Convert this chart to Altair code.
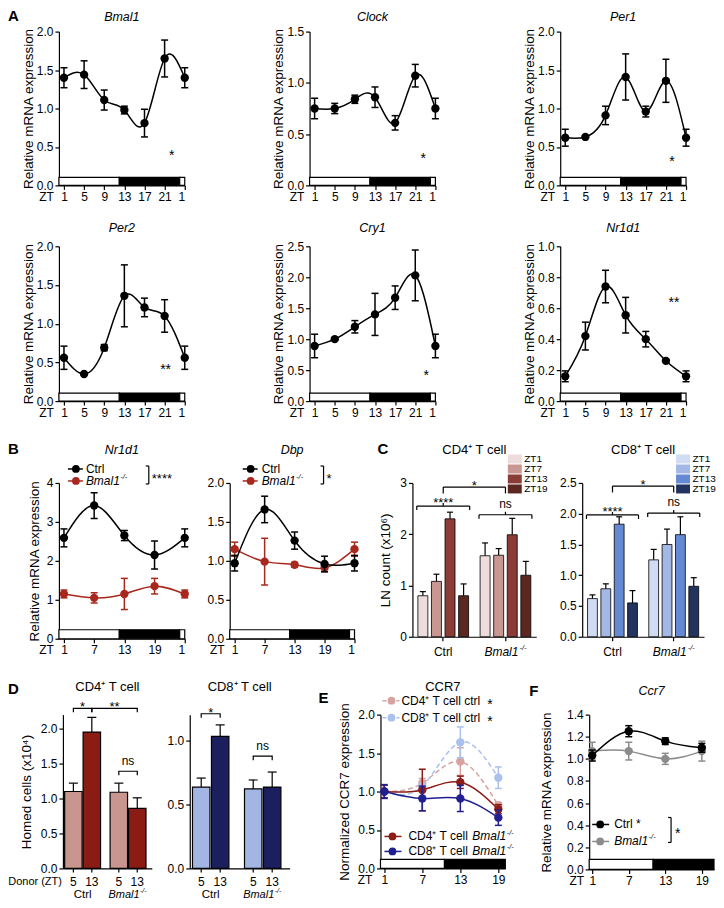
import altair as alt
import pandas as pd

FONT = "Liberation Sans"

# ======================= DATA =======================
# ---- A : ZT1..ZT21 and ZT1 repeated (plotted at 25)
A_ZT = [1, 5, 9, 13, 17, 21, 25]
A_ZT_LABELS = ["1", "5", "9", "13", "17", "21", "1"]
bmal1_mean = [1.40, 1.44, 1.11, 0.98, 0.81, 1.65, 1.40]
bmal1_sem = [0.13, 0.18, 0.13, 0.05, 0.18, 0.24, 0.13]
clock_mean = [0.75, 0.75, 0.84, 0.86, 0.61, 1.07, 0.75]
clock_sem = [0.10, 0.05, 0.04, 0.10, 0.07, 0.11, 0.10]
per1_mean = [0.62, 0.63, 0.91, 1.41, 0.96, 1.36, 0.62]
per1_sem = [0.11, 0.01, 0.12, 0.30, 0.07, 0.28, 0.11]
per2_mean = [0.56, 0.35, 0.69, 1.36, 1.21, 1.10, 0.56]
per2_sem = [0.15, 0.01, 0.04, 0.40, 0.12, 0.21, 0.15]
cry1_mean = [0.89, 1.00, 1.20, 1.40, 1.67, 2.03, 0.89]
cry1_sem = [0.19, 0.01, 0.10, 0.34, 0.19, 0.41, 0.19]
nr1d1_mean = [0.16, 0.42, 0.74, 0.555, 0.40, 0.26, 0.16]
nr1d1_sem = [0.035, 0.09, 0.105, 0.115, 0.05, 0.01, 0.035]
A_TITLES = ["Bmal1", "Clock", "Per1", "Per2", "Cry1", "Nr1d1"]
A_STAR_TEXT = ["*", "*", "*", "**", "*", "**"]
A_STAR_ZT = [22.4, 22.6, 22.2, 21.2, 23.2, 22.6]
A_STAR_Y = [0.44, 0.30, 0.36, 0.45, 0.47, 0.66]

LD_A_START = [0, 12, 24]
LD_A_END = [12, 24, 25]
LD_A_PHASE = ["light", "dark", "light"]

# ---- B
B_ZT = [1, 7, 13, 19, 25]
B_ZT_LABELS = ["1", "7", "13", "19", "1"]
b_nr1d1_ctrl_mean = [2.59, 3.42, 2.65, 2.15, 2.59]
b_nr1d1_ctrl_sem = [0.23, 0.33, 0.13, 0.36, 0.23]
b_nr1d1_ko_mean = [1.15, 1.05, 1.15, 1.35, 1.15]
b_nr1d1_ko_sem = [0.10, 0.13, 0.40, 0.20, 0.10]
b_dbp_ctrl_mean = [0.97, 1.66, 1.26, 0.96, 0.97]
b_dbp_ctrl_sem = [0.10, 0.17, 0.11, 0.10, 0.10]
b_dbp_ko_mean = [1.15, 0.99, 0.95, 0.91, 1.15]
b_dbp_ko_sem = [0.09, 0.30, 0.03, 0.05, 0.09]

# ---- C
C_GROUPS = ["Ctrl", "Bmal1"]
C_ZT = ["ZT1", "ZT7", "ZT13", "ZT19"]
cd4_ctrl_mean = [0.80, 1.08, 2.30, 0.80]
cd4_ctrl_sem = [0.08, 0.14, 0.13, 0.23]
cd4_ko_mean = [1.58, 1.59, 1.99, 1.20]
cd4_ko_sem = [0.25, 0.13, 0.32, 0.27]
cd8_ctrl_mean = [0.62, 0.78, 1.83, 0.55]
cd8_ctrl_sem = [0.06, 0.08, 0.12, 0.20]
cd8_ko_mean = [1.25, 1.50, 1.66, 0.82]
cd8_ko_sem = [0.17, 0.25, 0.29, 0.14]
C_CD4_COLORS = ["#eddcdb", "#c99792", "#8c3c37", "#5c2621"]
C_CD8_COLORS = ["#cfdcf3", "#a3b8e5", "#6589d3", "#22335f"]
C_BRACKET_TEXT = ["****", "ns"]
C_CD4_BRACKET_Y = [2.55, 2.38]
C_CD8_BRACKET_Y = [1.98, 2.01]
C_CD4_TOP_Y = 2.92
C_CD8_TOP_Y = 2.45

# ---- D
D_GROUPS = ["Ctrl", "Bmal1"]
D_ZT = ["5", "13"]
d_cd4_mean = [1.10, 1.95, 1.09, 0.86]
d_cd4_sem = [0.12, 0.21, 0.13, 0.15]
d_cd8_mean = [0.635, 1.03, 0.62, 0.635]
d_cd8_sem = [0.07, 0.09, 0.07, 0.117]
D4_BR_G1 = ["Ctrl", "Ctrl", "Bmal1"]
D4_BR_Z1 = ["5", "13", "5"]
D4_BR_G2 = ["Ctrl", "Bmal1", "Bmal1"]
D4_BR_Z2 = ["13", "13", "13"]
D4_BR_Y = [2.29, 2.29, 1.39]
D4_BR_T = ["*", "**", "ns"]
D8_BR_G1 = ["Ctrl", "Bmal1"]
D8_BR_Z1 = ["5", "5"]
D8_BR_G2 = ["Ctrl", "Bmal1"]
D8_BR_Z2 = ["13", "13"]
D8_BR_Y = [1.207, 0.876]
D8_BR_T = ["*", "ns"]

# ---- E
E_ZT = [1, 7, 13, 19]
E_ZT_LABELS = ["1", "7", "13", "19"]
e_cd4_ctrl_mean = [1.00, 1.11, 1.39, 0.82]
e_cd4_ctrl_sem = [0.00, 0.06, 0.18, 0.04]
e_cd8_ctrl_mean = [1.00, 1.07, 1.64, 1.18]
e_cd8_ctrl_sem = [0.00, 0.04, 0.20, 0.14]
e_cd4_ko_mean = [1.00, 1.02, 1.12, 0.77]
e_cd4_ko_sem = [0.08, 0.27, 0.08, 0.06]
e_cd8_ko_mean = [1.00, 0.91, 0.91, 0.66]
e_cd8_ko_sem = [0.09, 0.16, 0.17, 0.10]
LD_E_START = [0.4, 10.5]
LD_E_END = [10.5, 20.1]
LD_E_PHASE = ["light", "dark"]

# ---- F
f_ctrl_mean = [1.03, 1.25, 1.16, 1.10]
f_ctrl_sem = [0.05, 0.05, 0.03, 0.04]
f_ko_mean = [1.07, 1.07, 1.00, 1.07]
f_ko_sem = [0.08, 0.08, 0.05, 0.09]
LD_F_START = [0.5, 11]
LD_F_END = [11, 21]
LD_F_PHASE = ["light", "dark"]

KO_RED = "#a8281e"
E_CD4_CTRL = "#d7a39e"
E_CD8_CTRL = "#a9c1ec"
E_CD4_KO = "#8c1c17"
E_CD8_KO = "#1f1f8f"
F_GRAY = "#8c8c8c"


# ======================= HELPERS =======================
def one_row(**kw):
    return pd.DataFrame({k: [v] for k, v in kw.items()})


def ptext(s, x, y, size=12, italic=False, bold=False, align="left", color="black", dy=0,
          baseline="middle"):
    kw = dict(align=align, baseline=baseline, fontSize=size, font=FONT, color=color)
    if italic:
        kw["fontStyle"] = "italic"
    if bold:
        kw["fontWeight"] = "bold"
    if dy:
        kw["dy"] = dy
    return alt.Chart(one_row(t=s)).mark_text(**kw).encode(
        text="t:N", x=alt.value(x), y=alt.value(y))


def ptitle(s, W, y, italic=False, size=13):
    return ptext(s, W / 2.0, y, size, italic=italic, align="center", baseline="alphabetic")


def ko_ptext(x, y, size=12, color="black"):
    w = 2.834 * size
    return [ptext("Bmal1", x, y, size, italic=True, color=color),
            ptext("-/-", x + w + 0.5, y - 0.33 * size, size * 0.62, italic=True, color=color)]


def prule(x0, x1, y0, y1, color="black", sw=1.2, dash=None, opacity=1):
    kw = dict(color=color, strokeWidth=sw, strokeOpacity=opacity)
    if dash:
        kw["strokeDash"] = dash
    return alt.Chart(one_row(a=0)).mark_rule(**kw).encode(
        x=alt.value(x0), x2=alt.value(x1), y=alt.value(y0), y2=alt.value(y1))


def anchor(L, T, H, B):
    # invisible rule fixing the row's bounding box used by the vertical stacking
    return prule(-L, -L, -T, H + B, opacity=0, sw=0.5)


def pdot(x, y, color, size=60):
    return alt.Chart(one_row(a=0)).mark_circle(size=size, color=color, opacity=1).encode(
        x=alt.value(x), y=alt.value(y))


def legend_row(x0, x1, xc, y, color, dash=None):
    return [prule(x0, x1, y, y, color, 1.5, dash), pdot(xc, y, color)]


def pbracket(x, y0, y1, stub=3):
    return [prule(x, x, y0, y1), prule(x - stub, x, y0, y0), prule(x - stub, x, y1, y1)]


def ld_layer(start, end, phase, X, H, bh):
    df = pd.DataFrame({"s": start, "e": end, "p": phase})
    return alt.Chart(df).mark_rect(stroke="black", strokeWidth=1.2).encode(
        x=X("s"), x2=alt.X2("e"),
        y=alt.value(H - bh), y2=alt.value(H),
        fill=alt.condition("datum.p == 'dark'", alt.value("black"), alt.value("white")),
    )


def series_layers(s, X, Y):
    df = pd.DataFrame({"x": s["x"], "m": s["m"], "e": s["e"]})
    color = s["color"]
    sw = s.get("sw", 1.5)
    base = alt.Chart(df).transform_calculate(lo="datum.m - datum.e", hi="datum.m + datum.e")
    lk = dict(interpolate="natural", color=color, strokeWidth=sw)
    if s.get("dash"):
        lk["strokeDash"] = s["dash"]
    out = [base.mark_line(**lk).encode(x=X("x"), y=Y("m"))]
    out.append(base.mark_rule(color=color, strokeWidth=sw).encode(
        x=X("x"), y=Y("lo"), y2=alt.Y2("hi")))
    for f in ("lo", "hi"):
        out.append(base.mark_tick(orient="horizontal", size=s.get("cap", 7), thickness=sw,
                                  color=color, opacity=1).encode(x=X("x"), y=Y(f)))
    out.append(base.mark_circle(size=s.get("pt", 70), color=color, opacity=1).encode(
        x=X("x"), y=Y("m")))
    return out


def line_panel(W, H, xdom, xticks, xlabels, ydom, yticks, yfmt, ytitle, ytpad,
               ld, ld_h, series, title, title_y, title_italic=True, zt_x=-13,
               stars=(), overlay=()):
    lab = ("[" + ",".join("'%s'" % s for s in xlabels) + "][indexof([" +
           ",".join(str(v) for v in xticks) + "], datum.value)]")
    xaxis = alt.Axis(values=xticks, labelExpr=lab, title="ZT", titleX=zt_x, titleY=6,
                     titleAlign="center", titleBaseline="top", titleAngle=0, titleFontSize=12)
    xscale = alt.Scale(domain=xdom, nice=False, zero=False)
    yaxis = alt.Axis(values=yticks, format=yfmt, title=ytitle, titlePadding=ytpad)
    yscale = alt.Scale(domain=ydom, nice=False, zero=True)

    def X(f):
        return alt.X(f, type="quantitative", scale=xscale, axis=xaxis)

    def Y(f):
        return alt.Y(f, type="quantitative", scale=yscale, axis=yaxis)

    layers = [ld_layer(ld[0], ld[1], ld[2], X, H, ld_h)]
    for s in series:
        layers += series_layers(s, X, Y)
    for (t, sx, sy) in stars:
        layers.append(alt.Chart(one_row(t=t, x=sx, y=sy)).mark_text(
            fontSize=14, font=FONT, color="black", align="center", baseline="middle", dy=4
        ).encode(x=X("x"), y=Y("y"), text="t:N"))
    layers.append(ptitle(title, W, title_y, italic=title_italic,
                         size=12.5 if title_italic else 13))
    layers += list(overlay)
    return alt.layer(*layers).properties(width=W, height=H)


def band_geom(W, n, pi, po):
    step = W / (n - pi + 2 * po)
    return step, step * (1 - pi)


# ---------------- C panel ----------------
def c_panel(title, ctrl_m, ctrl_e, ko_m, ko_e, colors, ymax, yticks, yfmt, ytitle, ytpad,
            W, H, br_y, top_y, leg_x, leg_y, overlay=()):
    PI, PO = 0.15, 0.07
    S, BW = band_geom(W, 2, PI, PO)
    df = pd.DataFrame({"grp": [C_GROUPS[0]] * 4 + [C_GROUPS[1]] * 4,
                       "zt": C_ZT * 2, "m": ctrl_m + ko_m, "e": ctrl_e + ko_e})
    xscale = alt.Scale(domain=C_GROUPS, paddingInner=PI, paddingOuter=PO)
    xaxis = alt.Axis(labels=False, title=None, ticks=True)
    yscale = alt.Scale(domain=[0, ymax], nice=False)
    yaxis = alt.Axis(values=yticks, format=yfmt, title=ytitle, titlePadding=ytpad)

    def X(f="grp"):
        return alt.X(f + ":N", scale=xscale, axis=xaxis)

    def Y(f):
        return alt.Y(f + ":Q", scale=yscale, axis=yaxis)

    XO = alt.XOffset("zt:N", scale=alt.Scale(domain=C_ZT, paddingInner=0.265, paddingOuter=0.08))
    d = ymax * 4.0 / H
    dup = ymax * 3.0 / H
    base = alt.Chart(df).transform_calculate(hi="datum.m + datum.e")
    legend = alt.Legend(orient="none", legendX=leg_x, legendY=leg_y, title=None,
                        symbolType="M-1.55,-1H1.55V1H-1.55Z", symbolSize=81,
                        symbolStrokeWidth=0, symbolOpacity=1, labelFontSize=10,
                        labelFont=FONT, labelColor="black", labelOffset=4.5,
                        rowPadding=0, padding=0)
    layers = [
        base.mark_rule(color="black", strokeWidth=1.2).encode(
            x=X(), xOffset=XO, y=Y("m"), y2=alt.Y2("hi")),
        base.mark_tick(orient="horizontal", size=6, thickness=1.2, color="black", opacity=1).encode(
            x=X(), xOffset=XO, y=Y("hi")),
        base.mark_bar(stroke="black", strokeWidth=0.8).encode(
            x=X(), xOffset=XO, y=Y("m"),
            fill=alt.Fill("zt:N", scale=alt.Scale(domain=C_ZT, range=colors), legend=legend)),
    ]
    bdf = pd.DataFrame({"grp": C_GROUPS, "lvl": br_y, "t": C_BRACKET_TEXT})
    bb = alt.Chart(bdf).transform_calculate(lo="datum.lvl - %f" % d, up="datum.lvl + %f" % dup)
    layers += [
        bb.mark_tick(orient="horizontal", size=BW, thickness=1.2, color="black", opacity=1).encode(
            x=X(), y=Y("lvl")),
        bb.mark_rule(xOffset=-BW / 2, color="black", strokeWidth=1.2).encode(
            x=X(), y=Y("lvl"), y2=alt.Y2("lo")),
        bb.mark_rule(xOffset=BW / 2, color="black", strokeWidth=1.2).encode(
            x=X(), y=Y("lvl"), y2=alt.Y2("lo")),
        bb.mark_rule(color="black", strokeWidth=1.2).encode(x=X(), y=Y("lvl"), y2=alt.Y2("up")),
    ]
    for i, g in enumerate(C_GROUPS):
        ns = C_BRACKET_TEXT[i] == "ns"
        layers.append(alt.Chart(one_row(grp=g, lvl=br_y[i], t=C_BRACKET_TEXT[i])).mark_text(
            fontSize=12 if ns else 13, font=FONT, baseline="alphabetic", dy=-7 if ns else 1,
            color="black").encode(x=X(), y=Y("lvl"), text="t:N"))
    tdf = pd.DataFrame({"g1": [C_GROUPS[0]], "g2": [C_GROUPS[1]], "lvl": [top_y], "t": ["*"]})
    tends = pd.DataFrame({"grp": C_GROUPS, "lvl": [top_y, top_y]})
    layers += [
        alt.Chart(tdf).mark_rule(color="black", strokeWidth=1.2).encode(
            x=X("g1"), x2=alt.X2("g2"), y=Y("lvl")),
        alt.Chart(tends).transform_calculate(lo="datum.lvl - %f" % (1.6 * d)).mark_rule(
            color="black", strokeWidth=1.2).encode(x=X(), y=Y("lvl"), y2=alt.Y2("lo")),
        alt.Chart(tdf).mark_text(fontSize=13, font=FONT, baseline="alphabetic", dy=3,
                                 dx=S / 2, color="black").encode(x=X("g1"), y=Y("lvl"), text="t:N"),
    ]
    layers += [
        alt.Chart(one_row(grp="Ctrl", t="Ctrl")).mark_text(
            fontSize=12, font=FONT, color="black", baseline="middle").encode(
            x=X(), y=alt.value(H + 15), text="t:N"),
        alt.Chart(one_row(grp="Bmal1", t="Bmal1")).mark_text(
            fontSize=12, font=FONT, color="black", baseline="middle", fontStyle="italic",
            dx=-4).encode(x=X(), y=alt.value(H + 15), text="t:N"),
        alt.Chart(one_row(grp="Bmal1", t="-/-")).mark_text(
            fontSize=7.5, font=FONT, color="black", baseline="middle", fontStyle="italic",
            align="left", dx=14, dy=-4).encode(x=X(), y=alt.value(H + 15), text="t:N"),
        ptitle(title, W, -29.5),
    ]
    layers += list(overlay)
    return alt.layer(*layers).properties(width=W, height=H)


# ---------------- D panel ----------------
def d_panel(title, means, sems, c5, c13, ymax, yticks, ytitle, ytpad, W, H,
            pi, po, al, pi2, br, overlay=()):
    S, BWD = band_geom(W, 2, pi, po)
    s2 = BWD / (2 - pi2)
    df = pd.DataFrame({"grp": [D_GROUPS[0]] * 2 + [D_GROUPS[1]] * 2,
                       "zt": D_ZT * 2, "m": means, "e": sems})
    xscale = alt.Scale(domain=D_GROUPS, paddingInner=pi, paddingOuter=po, align=al)
    xaxis = alt.Axis(labels=False, ticks=False, title=None)
    yscale = alt.Scale(domain=[0, ymax], nice=False)
    yaxis = alt.Axis(values=yticks, format=".1f", title=ytitle, titlePadding=ytpad)

    def X(f="grp"):
        return alt.X(f + ":N", scale=xscale, axis=xaxis)

    def Y(f):
        return alt.Y(f + ":Q", scale=yscale, axis=yaxis)

    def XO(f="zt"):
        return alt.XOffset(f + ":N", scale=alt.Scale(domain=D_ZT, paddingInner=pi2, paddingOuter=0))

    d = ymax * 4.0 / H
    base = alt.Chart(df).transform_calculate(hi="datum.m + datum.e")
    layers = [
        base.mark_rule(color="black", strokeWidth=1.2).encode(
            x=X(), xOffset=XO(), y=Y("m"), y2=alt.Y2("hi")),
        base.mark_tick(orient="horizontal", size=9, thickness=1.2, color="black", opacity=1).encode(
            x=X(), xOffset=XO(), y=Y("hi")),
        base.mark_bar(stroke="black", strokeWidth=1.2).encode(
            x=X(), xOffset=XO(), y=Y("m"),
            fill=alt.condition("datum.zt == '5'", alt.value(c5), alt.value(c13))),
        base.mark_rule(color="black", strokeWidth=1.2).encode(
            x=X(), xOffset=XO(), y=alt.value(H), y2=alt.value(H + 4)),
        base.mark_text(fontSize=12, font=FONT, color="black", baseline="middle").encode(
            x=X(), xOffset=XO(), y=alt.value(H + 14), text="zt:N"),
    ]
    g1, z1, g2, z2, ys, ts = br
    rows = []
    for i in range(len(ys)):
        rows += [dict(id=i, o=0, grp=g1[i], zt=z1[i], y=ys[i] - d),
                 dict(id=i, o=1, grp=g1[i], zt=z1[i], y=ys[i]),
                 dict(id=i, o=2, grp=g2[i], zt=z2[i], y=ys[i]),
                 dict(id=i, o=3, grp=g2[i], zt=z2[i], y=ys[i] - d)]
    ldf = pd.DataFrame(rows)
    layers.append(alt.Chart(ldf).mark_line(color="black", strokeWidth=1.2).encode(
        x=X(), xOffset=XO(), y=Y("y"), detail="id:N", order="o:Q"))
    for i in range(len(ys)):
        dx = s2 / 2 if g1[i] == g2[i] else S / 2
        ns = ts[i] == "ns"
        layers.append(alt.Chart(one_row(grp=g1[i], zt=z1[i], y=ys[i], t=ts[i])).mark_text(
            fontSize=12 if ns else 13, font=FONT, color="black", baseline="alphabetic",
            dy=-6 if ns else 3, dx=dx).encode(x=X(), xOffset=XO(), y=Y("y"), text="t:N"))
    layers += [
        alt.Chart(one_row(grp="Ctrl", t="Ctrl")).mark_text(
            fontSize=11.5, font=FONT, color="black", baseline="middle").encode(
            x=X(), y=alt.value(H + 27), text="t:N"),
        alt.Chart(one_row(grp="Bmal1", t="Bmal1")).mark_text(
            fontSize=11, font=FONT, color="black", baseline="middle", fontStyle="italic",
            dx=-4).encode(x=X(), y=alt.value(H + 27), text="t:N"),
        alt.Chart(one_row(grp="Bmal1", t="-/-")).mark_text(
            fontSize=7, font=FONT, color="black", baseline="middle", fontStyle="italic",
            align="left", dx=12, dy=-4).encode(x=X(), y=alt.value(H + 27), text="t:N"),
        ptitle(title, W, -23.5),
    ]
    layers += list(overlay)
    return alt.layer(*layers).properties(width=W, height=H)


# ======================= PANELS =======================
# vertical bookkeeping: plot tops at 31, 246, 483, 715 in the reference
B_H = 156
C_H = 154
T1, B1 = 23, 20
T2, B2 = 41, 20
T3, B3 = 62, 24
T4, B4 = 715 - (483 + B_H + 24), 34

A_W = 126
LD_A = (LD_A_START, LD_A_END, LD_A_PHASE)
A_MEANS = [bmal1_mean, clock_mean, per1_mean, per2_mean, cry1_mean, nr1d1_mean]
A_SEMS = [bmal1_sem, clock_sem, per1_sem, per2_sem, cry1_sem, nr1d1_sem]
A_YMAX = [2.0, 1.5, 2.0, 2.0, 2.5, 1.0]
A_YTICKS = [[0, 0.5, 1.0, 1.5, 2.0], [0, 0.5, 1.0, 1.5], [0, 0.5, 1.0, 1.5, 2.0],
            [0, 0.5, 1.0, 1.5, 2.0], [0, 0.5, 1.0, 1.5, 2.0, 2.5],
            [0, 0.2, 0.4, 0.6, 0.8, 1.0]]

a_panels = []
for i in range(6):
    H = 154 if i < 3 else 155
    ov = []
    if i == 0:
        ov = [ptext("A", -51, -15.5, 15, bold=True), anchor(51, T1, H, B1)]
    if i == 3:
        ov = [anchor(51, T2, H, B2)]
    a_panels.append(line_panel(
        A_W, H, [0, 25], A_ZT, A_ZT_LABELS, [0, A_YMAX[i]], A_YTICKS[i], ".1f",
        "Relative mRNA expression", 1, LD_A, 8,
        [dict(x=A_ZT, m=A_MEANS[i], e=A_SEMS[i], color="black")],
        A_TITLES[i], -11 if i < 3 else -14.5,
        stars=[(A_STAR_TEXT[i], A_STAR_ZT[i], A_STAR_Y[i])], overlay=ov))

# ---- B
b_ov1 = [ptext("B", -51, -34, 15, bold=True), anchor(51, T3, B_H, B3)]
b_ov1 += legend_row(9, 24, 17, -14, "black") + [ptext("Ctrl", 27, -14)]
b_ov1 += legend_row(9, 24, 17, -2, KO_RED) + ko_ptext(27, -2)
b_ov1 += pbracket(90, -17, 1) + [ptext("****", 93, -7, 13, dy=3)]
pB1 = line_panel(126, B_H, [0, 25], B_ZT, B_ZT_LABELS, [0, 4], [0, 1, 2, 3, 4], "d",
                 "Relative mRNA expression", 5, LD_A, 9,
                 [dict(x=B_ZT, m=b_nr1d1_ko_mean, e=b_nr1d1_ko_sem, color=KO_RED),
                  dict(x=B_ZT, m=b_nr1d1_ctrl_mean, e=b_nr1d1_ctrl_sem, color="black")],
                 "Nr1d1", -29.5, overlay=b_ov1)
b_ov2 = legend_row(13, 28, 21, -14, "black") + [ptext("Ctrl", 32, -14)]
b_ov2 += legend_row(13, 28, 21, -2, KO_RED) + ko_ptext(32, -2)
b_ov2 += pbracket(94, -17, 1) + [ptext("*", 97, -7, 13, dy=3)]
pB2 = line_panel(125, B_H, [0, 25], B_ZT, B_ZT_LABELS, [0, 2], [0, 0.5, 1.0, 1.5, 2.0], ".1f",
                 None, 5, LD_A, 9,
                 [dict(x=B_ZT, m=b_dbp_ko_mean, e=b_dbp_ko_sem, color=KO_RED),
                  dict(x=B_ZT, m=b_dbp_ctrl_mean, e=b_dbp_ctrl_sem, color="black")],
                 "Dbp", -29.5, overlay=b_ov2)

# ---- C
pC1 = c_panel("CD4\u207a T cell", cd4_ctrl_mean, cd4_ctrl_sem, cd4_ko_mean, cd4_ko_sem,
              C_CD4_COLORS, 3, [0, 1, 2, 3], "d", "LN count (x10\u2076)", 7, 124, C_H,
              C_CD4_BRACKET_Y, C_CD4_TOP_Y, 97.5, -29,
              overlay=[ptext("C", -35, -34, 15, bold=True)])
pC2 = c_panel("CD8\u207a T cell", cd8_ctrl_mean, cd8_ctrl_sem, cd8_ko_mean, cd8_ko_sem,
              C_CD8_COLORS, 2.5, [0, 0.5, 1.0, 1.5, 2.0, 2.5], ".1f", None, 7, 122, C_H,
              C_CD8_BRACKET_Y, C_CD8_TOP_Y, 96, -29)

# ---- D
pD1 = d_panel("CD4\u207a T cell", d_cd4_mean, d_cd4_sem, "#c9958f", "#8a1c14", 2.2,
              [0, 0.5, 1.0, 1.5, 2.0], "Homed cells  (x10\u2074)", 7, 89, 154,
              0.21, 0.083, 0.23, 0.054,
              (D4_BR_G1, D4_BR_Z1, D4_BR_G2, D4_BR_Z2, D4_BR_Y, D4_BR_T),
              overlay=[ptext("D", -55, -26, 15, bold=True),
                       ptext("Donor (ZT)", -1, 154 + 14, 11, align="right"),
                       anchor(55, T4, 154, B4)])
pD2 = d_panel("CD8\u207a T cell", d_cd8_mean, d_cd8_sem, "#a3b5e3", "#1b1f5e", 1.2,
              [0, 0.5, 1.0], None, 7, 100, 154,
              0.30, 0.11, 0.24, 0.08,
              (D8_BR_G1, D8_BR_Z1, D8_BR_G2, D8_BR_Z2, D8_BR_Y, D8_BR_T))

# ---- E
e_ov = [ptext("E", -62, -17, 15, bold=True)]
e_ov += legend_row(2, 19, 11, -14, E_CD4_CTRL, [4, 3]) + [ptext("CD4\u207a T cell ctrl", 21, -14),
                                                           ptext("*", 107, -14, 14, dy=4)]
e_ov += legend_row(2, 19, 11, 3, E_CD8_CTRL, [4, 3]) + [ptext("CD8\u207a T cell ctrl", 21, 3),
                                                         ptext("*", 107, 3, 14, dy=4)]
e_ov += legend_row(4, 21, 12, 122, E_CD4_KO) + [ptext("CD4\u207a T cell", 28, 122)] + ko_ptext(92, 122)
e_ov += legend_row(4, 21, 12, 137, E_CD8_KO) + [ptext("CD8\u207a T cell", 28, 137)] + ko_ptext(92, 137)
pE = line_panel(125, 154, [0.4, 20.1], E_ZT, E_ZT_LABELS, [0, 2], [0, 0.5, 1.0, 1.5, 2.0], ".1f",
                "Normalized CCR7 expression", 6, (LD_E_START, LD_E_END, LD_E_PHASE), 9,
                [dict(x=E_ZT, m=e_cd4_ctrl_mean, e=e_cd4_ctrl_sem, color=E_CD4_CTRL, dash=[5, 3]),
                 dict(x=E_ZT, m=e_cd8_ctrl_mean, e=e_cd8_ctrl_sem, color=E_CD8_CTRL, dash=[5, 3]),
                 dict(x=E_ZT, m=e_cd4_ko_mean, e=e_cd4_ko_sem, color=E_CD4_KO),
                 dict(x=E_ZT, m=e_cd8_ko_mean, e=e_cd8_ko_sem, color=E_CD8_KO)],
                "CCR7", -24, title_italic=False, zt_x=-16, overlay=e_ov)

# ---- F
f_ov = [ptext("F", -60, -24, 15, bold=True)]
f_ov += legend_row(3, 20, 11, 110, "black") + [ptext("Ctrl *", 25, 110)]
f_ov += legend_row(3, 20, 11, 127, F_GRAY) + ko_ptext(25, 127)
f_ov += pbracket(82, 103, 128) + [ptext("*", 86, 116, 14, dy=4)]
pF = line_panel(125, 155, [0.5, 21], E_ZT, E_ZT_LABELS, [0, 1.4],
                [0, 0.2, 0.4, 0.6, 0.8, 1.0, 1.2, 1.4], ".1f",
                "Relative mRNA expression", 13, (LD_F_START, LD_F_END, LD_F_PHASE), 10,
                [dict(x=E_ZT, m=f_ko_mean, e=f_ko_sem, color=F_GRAY),
                 dict(x=E_ZT, m=f_ctrl_mean, e=f_ctrl_sem, color="black")],
                "Ccr7", -20, zt_x=-13, overlay=f_ov)


# ======================= LAYOUT =======================
def sp(w, h=0):
    return alt.Chart(one_row(a=0)).mark_point(opacity=0).encode(
        x=alt.value(0), y=alt.value(0)).properties(width=w, height=h)


def row(*items):
    return alt.hconcat(*items, spacing=0, bounds="flush").resolve_scale(
        fill="independent", xOffset="independent")


row1 = row(a_panels[0], sp(125), a_panels[1], sp(125), a_panels[2])
row2 = row(a_panels[3], sp(125), a_panels[4], sp(125), a_panels[5])
row3 = row(pB1, sp(45), pB2, sp(58), pC1, sp(46), pC2)
row4 = row(sp(4), pD1, sp(38), pD2, sp(91), pE, sp(84), pF)

chart = alt.vconcat(row1, row2, row3, row4, spacing=0).resolve_scale(
    fill="independent", xOffset="independent").properties(padding=0)

chart = chart.configure_view(stroke=None).configure_axis(
    grid=False, domainColor="black", tickColor="black", labelColor="black", titleColor="black",
    labelFont=FONT, titleFont=FONT, labelFontSize=12, titleFontSize=13.5,
    titleFontWeight="normal", tickSize=4, domainWidth=1.2, tickWidth=1.2, labelPadding=2,
)

chart.save("out.html", embed_options={"renderer": "svg", "actions": False})
